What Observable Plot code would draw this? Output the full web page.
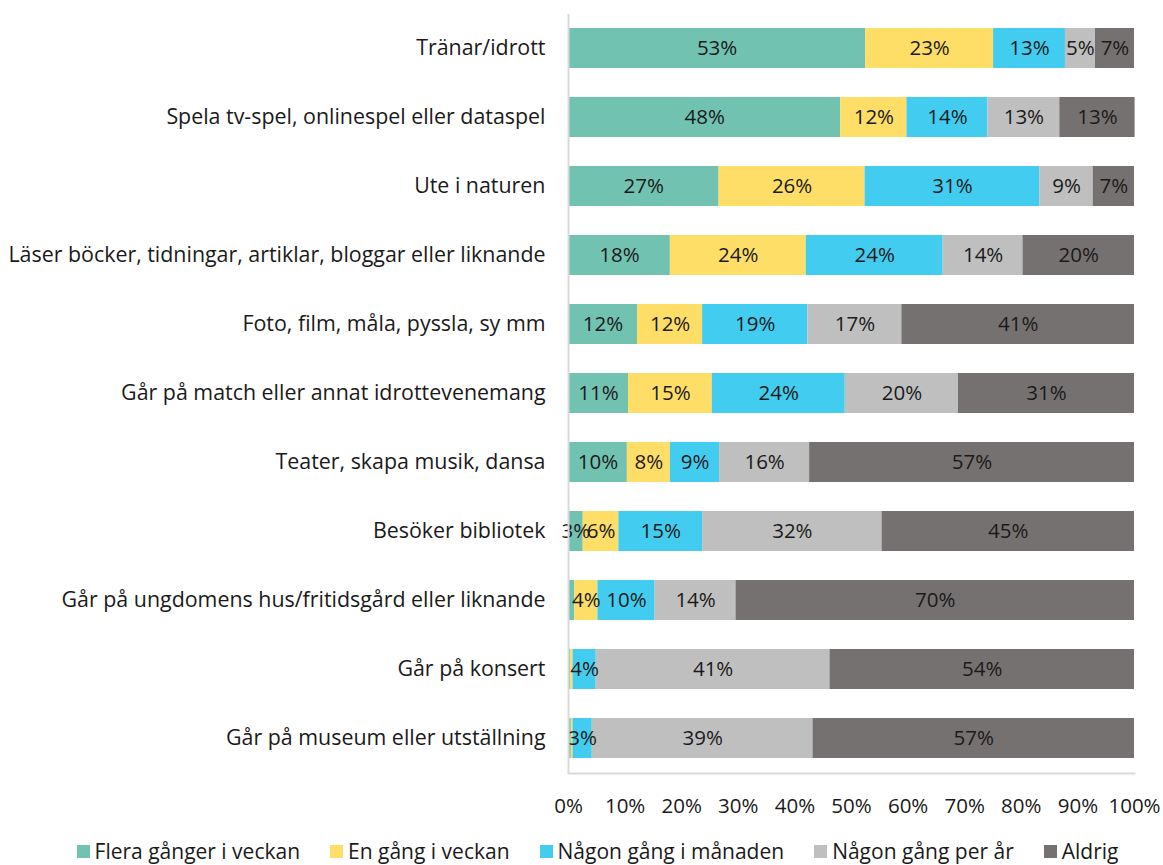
<!DOCTYPE html>
<html>
<head>
<meta charset="utf-8">
<script src="https://cdn.jsdelivr.net/npm/d3@7"></script>
<script src="https://cdn.jsdelivr.net/npm/@observablehq/plot@0.6"></script>
<style>
  html, body { margin: 0; padding: 0; background: #fff; }
  body { width: 1163px; height: 865px; overflow: hidden; font-family: "Open Sans", sans-serif; }
  #chart svg { display: block; }
  #legend { display: flex; justify-content: center; margin-top: 10px; font-size: 21px; line-height: 26px; color: #1a1a1a; padding-left: 32px; }
  .item { display: flex; align-items: center; margin: 0 15px; white-space: nowrap; }
  .sw { width: 13px; height: 13px; margin-right: 5px; display: inline-block; }
</style>
</head>
<body>
<div id="chart"></div>
<div id="legend"></div>
<script>
const categories = [
  "Tränar/idrott",
  "Spela tv-spel, onlinespel eller dataspel",
  "Ute i naturen",
  "Läser böcker, tidningar, artiklar, bloggar eller liknande",
  "Foto, film, måla, pyssla, sy mm",
  "Går på match eller annat idrottevenemang",
  "Teater, skapa musik, dansa",
  "Besöker bibliotek",
  "Går på ungdomens hus/fritidsgård eller liknande",
  "Går på konsert",
  "Går på museum eller utställning"
];
const series = ["Flera gånger i veckan", "En gång i veckan", "Någon gång i månaden", "Någon gång per år", "Aldrig"];
const colors = ["#72c2b2", "#fede67", "#42cdf0", "#bfbfbf", "#767171"];

const flera   = [52.5, 48.1, 26.6, 18.0, 12.2, 10.6, 10.4, 2.6, 1.1, 0.4, 0.5];
const enGang  = [22.6, 11.7, 25.8, 24.0, 11.5, 14.8,  7.6, 6.3, 4.1, 0.4, 0.3];
const manad   = [12.7, 14.3, 30.9, 24.2, 18.6, 23.5,  8.7, 14.8, 10.1, 4.1, 3.4];
const perAr   = [ 5.3, 12.7,  9.4, 14.1, 16.6, 20.0, 15.9, 31.7, 14.3, 41.3, 39.0];
const aldrig  = [ 6.9, 13.3,  7.3, 19.7, 41.1, 31.1, 57.4, 44.6, 70.4, 53.8, 56.8];

const seriesValues = [flera, enGang, manad, perAr, aldrig];
const data = [];
categories.forEach((c, i) => {
  series.forEach((s, j) => data.push({category: c, series: s, value: seriesValues[j][i]}));
});

const chart = Plot.plot({
  width: 1163,
  height: 828,
  marginLeft: 568,
  marginRight: 29,
  marginTop: 14,
  marginBottom: 55,
  style: {fontFamily: "'Open Sans', sans-serif", color: "#1a1a1a", background: "#fff"},
  x: {domain: [0, 100], ticks: d3.range(0, 101, 10), tickFormat: d => d + "%", label: null},
  y: {domain: categories, paddingInner: 0.42, paddingOuter: 0.21, label: null},
  color: {domain: series, range: colors},
  marks: [
    Plot.barX(data, Plot.stackX({x: "value", y: "category", fill: "series", z: "series", order: series})),
    Plot.text(data, Plot.stackX({
      x: "value", y: "category", z: "series", order: series,
      text: d => d.value >= 2 ? Math.round(d.value) + "%" : "",
      fontSize: 20.5, fill: "#1a1a1a"
    })),
    Plot.ruleX([0], {stroke: "#d9d9d9", strokeWidth: 2}),
    Plot.frame({anchor: "bottom", stroke: "#d9d9d9", strokeWidth: 2}),
    Plot.axisX({tickSize: 0, tickPadding: 25, fontSize: 20.5, label: null, tickFormat: d => d + "%"}),
    Plot.axisY({tickSize: 0, tickPadding: 23, fontSize: 21.4, label: null})
  ]
});
document.getElementById("chart").appendChild(chart);

const legend = document.getElementById("legend");
series.forEach((s, j) => {
  const it = document.createElement("div");
  it.className = "item";
  it.innerHTML = `<span class="sw" style="background:${colors[j]}"></span><span>${s}</span>`;
  legend.appendChild(it);
});
</script>
</body>
</html>
